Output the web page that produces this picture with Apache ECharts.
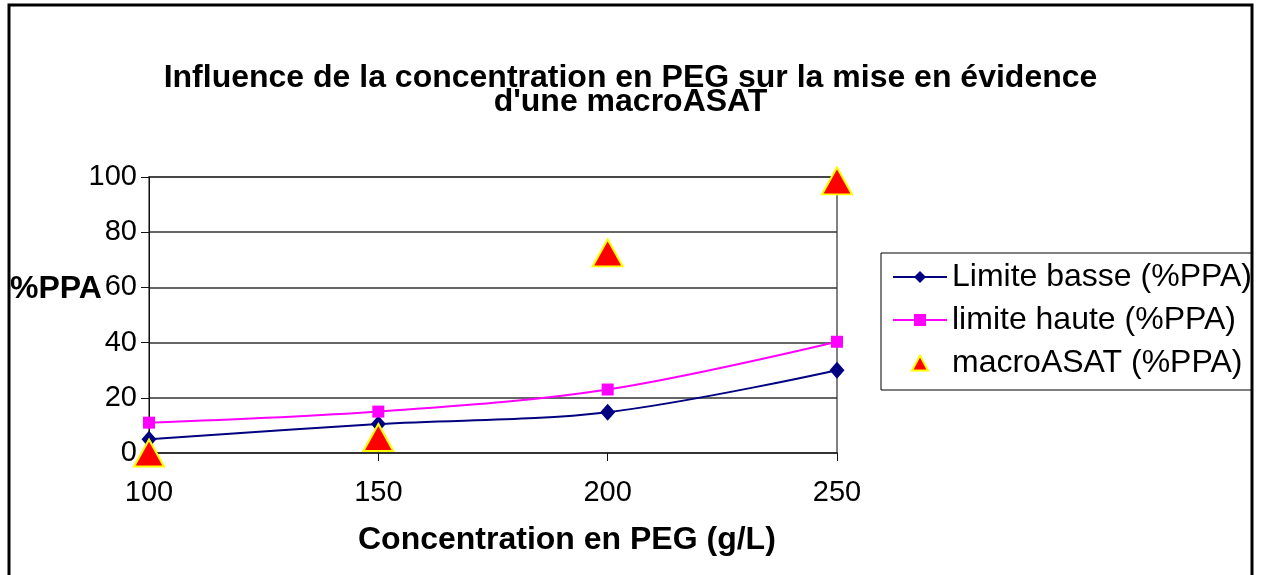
<!DOCTYPE html>
<html>
<head>
<meta charset="utf-8">
<script src="https://cdn.jsdelivr.net/npm/echarts@6/dist/echarts.min.js"></script>
<style>
  html, body { margin: 0; padding: 0; background: #fff; }
  #chart { width: 1261px; height: 575px; }
</style>
</head>
<body>
<div id="chart"></div>
<script>
// PEG concentration (g/L) on the x axis
const concentrations = [100, 150, 200, 250];
// %PPA values
const limiteBasse = [5, 10.5, 14.8, 30];
const limiteHaute = [11, 15, 23, 40.3];
const macroAsat = [0, 5.6, 72.5, 98.6];
const xTicks = { min: 100, max: 250, interval: 50 };
const yTicks = { min: 0, max: 100, interval: 20 };

const pair = (vals) => concentrations.map((c, i) => [c, vals[i]]);

const FONT = 'Liberation Sans, Arial, sans-serif';
// small triangle legend key, padded to the full key box so it stays small
const TRIANGLE_KEY = 'path://M0 0M54 0M54 15M0 15M19 15L27 0L35 15Z';

const chart = echarts.init(document.getElementById('chart'), null, { renderer: 'canvas' });

chart.setOption({
  animation: false,
  backgroundColor: '#ffffff',
  title: {
    text: 'Influence de la concentration en PEG sur la mise en évidence\nd\'une macroASAT',
    left: 'center',
    top: 61,
    textStyle: { fontFamily: FONT, fontWeight: 'bold', fontSize: 32, lineHeight: 24, color: '#000' }
  },
  grid: { left: 149, right: 424, top: 177, bottom: 122, show: true, borderColor: '#808080', borderWidth: 2 },
  xAxis: {
    type: 'value',
    min: xTicks.min, max: xTicks.max, interval: xTicks.interval,
    axisLine: { show: true, lineStyle: { color: '#333', width: 2 } },
    axisTick: { show: true, length: 8, lineStyle: { color: '#111', width: 1 } },
    axisLabel: { fontFamily: FONT, fontSize: 29, color: '#000', margin: 25 },
    splitLine: { show: false }
  },
  yAxis: {
    type: 'value',
    min: yTicks.min, max: yTicks.max, interval: yTicks.interval,
    axisLine: { show: true, lineStyle: { color: '#111', width: 1 } },
    axisTick: { show: true, length: 8, inside: false, lineStyle: { color: '#111' } },
    axisLabel: { fontFamily: FONT, fontSize: 29, color: '#000', margin: 12 },
    splitLine: { show: true, lineStyle: { color: '#333', width: 1.5 } }
  },
  legend: {
    orient: 'vertical',
    left: 881, top: 253,
    width: 380,
    padding: [8, 20, 11, 11],
    itemGap: 11,
    itemWidth: 54, itemHeight: 15,
    borderColor: '#000', borderWidth: 1,
    backgroundColor: '#fff',
    textStyle: { fontFamily: FONT, fontSize: 32, color: '#000' },
    data: [
      { name: 'Limite basse (%PPA)' },
      { name: 'limite haute (%PPA)' },
      { name: 'macroASAT (%PPA)', icon: TRIANGLE_KEY }
    ]
  },
  graphic: [
    {
      type: 'text', left: 10, top: 273, z: 10,
      style: { text: '%PPA', font: 'bold 32px ' + FONT, fill: '#000' }
    },
    {
      type: 'text', left: 358, top: 524, z: 10,
      style: { text: 'Concentration en PEG (g/L)', font: 'bold 32px ' + FONT, fill: '#000' }
    },
    {
      // white margin outside the chart frame
      type: 'rect', z: 99, silent: true,
      shape: { x: 1253, y: 0, width: 10, height: 575 },
      style: { fill: '#fff' }
    },
    {
      type: 'rect', z: 100, silent: true,
      shape: { x: 9, y: 5, width: 1243, height: 620 },
      style: { fill: 'none', stroke: '#000', lineWidth: 3 }
    }
  ],
  series: [
    {
      name: 'Limite basse (%PPA)',
      type: 'line',
      data: pair(limiteBasse),
      smooth: 0.35,
      symbol: 'diamond', symbolSize: [15, 17],
      lineStyle: { color: '#000080', width: 2 },
      itemStyle: { color: '#000080' },
      z: 3
    },
    {
      name: 'limite haute (%PPA)',
      type: 'line',
      data: pair(limiteHaute),
      smooth: 0.35,
      symbol: 'rect', symbolSize: 12,
      lineStyle: { color: '#ff00ff', width: 2 },
      itemStyle: { color: '#ff00ff' },
      z: 3
    },
    {
      name: 'macroASAT (%PPA)',
      type: 'scatter',
      data: pair(macroAsat),
      symbol: 'triangle', symbolSize: [30, 27],
      itemStyle: { color: '#ff0000', opacity: 1, borderColor: '#ffff00', borderWidth: 2 },
      z: 4
    }
  ]
});
</script>
</body>
</html>
